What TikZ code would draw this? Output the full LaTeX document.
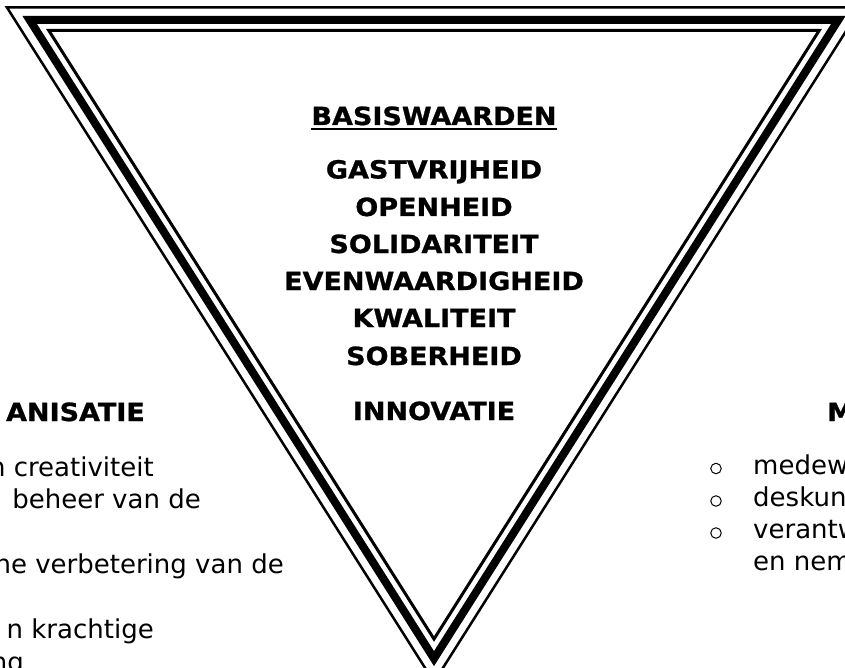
\documentclass[tikz,border=0pt]{standalone}
\usepackage{fontspec}
\setmainfont{DejaVu Sans}
\newfontfamily\vwide{DejaVu Sans}[FakeStretch=1.08,FakeBold=1]
\begin{document}
\begin{tikzpicture}[x=1pt,y=-1pt,
  thinline/.style={draw=black, line width=2.5pt, line join=miter},
  thickline/.style={draw=black, line width=8pt, line join=miter},
  innerline/.style={draw=black, line width=3pt, line join=miter},
  val/.style={font=\vwide\bfseries\fontsize{25}{30}\selectfont, anchor=base, inner sep=0pt},
  headl/.style={font=\vwide\bfseries\fontsize{25}{30}\selectfont, inner sep=0pt},
  sidetxt/.style={font=\fontsize{26}{31}\selectfont, inner sep=0pt},
  bullet/.style={circle, draw=black, line width=1pt, inner sep=0pt, minimum size=10.5pt}]
\useasboundingbox (0,0) rectangle (845,668);
\clip (0,0) rectangle (845,668);
% triangle: three parallel outlines
\coordinate (oa) at (7,7.5);   \coordinate (ob) at (861,7.5);   \coordinate (oc) at (434,682);
\coordinate (ma) at (29.7,20); \coordinate (mb) at (838.3,20);  \coordinate (mc) at (434,658.6);
\coordinate (ia) at (48.8,30.5); \coordinate (ib) at (819.2,30.5); \coordinate (ic) at (434,639);
\draw[thinline] (oa) -- (ob) -- (oc) -- cycle;
\draw[thickline] (ma) -- (mb) -- (mc) -- cycle;
\draw[innerline] (ia) -- (ib) -- (ic) -- cycle;
% values
\node[val] (bw) at (434,125) {BASISWAARDEN};
\draw[line width=2pt] ([yshift=-4.5pt]bw.base west) -- ([yshift=-4.5pt]bw.base east);
\node[val] (v1) at (434,178.5) {GASTVRIJHEID};
\node[val] (v2) at (434,216) {OPENHEID};
\node[val] (v3) at (434,253) {SOLIDARITEIT};
\node[val] (v4) at (434,290) {EVENWAARDIGHEID};
\node[val] (v5) at (434,327) {KWALITEIT};
\node[val] (v6) at (434,365) {SOBERHEID};
\node[val] (v7) at (434,420) {INNOVATIE};
% left column
\node[headl, anchor=base east] (lh) at (145,421) {ANISATIE};
\node[sidetxt, anchor=base east] (l1) at (154,476) {n creativiteit};
\node[sidetxt, anchor=base east] (l2) at (201,508.5) {beheer van de};
\node[sidetxt, anchor=base east] (l3) at (284,573.5) {ne verbetering van de};
\node[sidetxt, anchor=base east] (l4) at (154,638.5) {n krachtige};
\node[sidetxt, anchor=base east] (l5) at (24,671) {ng};
% right column
\node[headl, anchor=base west] (rh) at (827,421) {M};
\node[bullet] (b1) at (716,468.5) {};
\node[bullet] (b2) at (716,501) {};
\node[bullet] (b3) at (716,533) {};
\node[sidetxt, anchor=base west] (r1) at (753,474) {medew};
\node[sidetxt, anchor=base west] (r2) at (753,506.5) {deskun};
\node[sidetxt, anchor=base west] (r3) at (753,538.5) {verantw};
\node[sidetxt, anchor=base west] (r4) at (753,570.5) {en nem};
\end{tikzpicture}
\end{document}
